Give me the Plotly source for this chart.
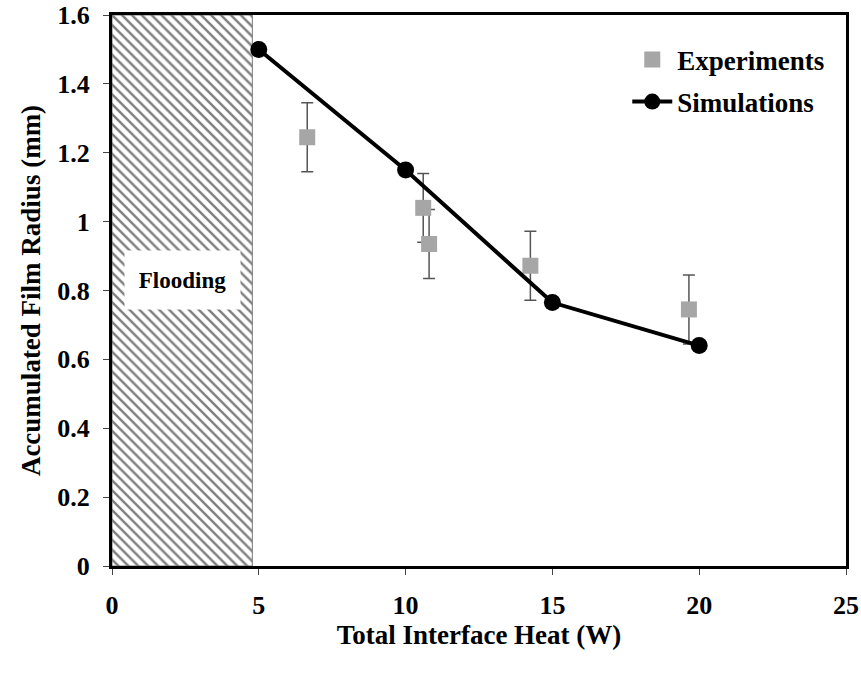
import plotly.graph_objects as go

# Data
sim_x = [5.0, 10.0, 15.0, 20.0]
sim_y = [1.50, 1.150, 0.765, 0.640]

exp_x = [6.65, 10.6, 10.8, 14.25, 19.65]
exp_y = [1.245, 1.04, 0.935, 0.872, 0.745]
exp_err = [0.10, 0.10, 0.10, 0.10, 0.10]

flood_x = [0, 4.78]
y_range = [0, 1.6]
x_ticks = [0, 5, 10, 15, 20, 25]
y_ticks = [0, 0.2, 0.4, 0.6, 0.8, 1.0, 1.2, 1.4, 1.6]
y_tick_text = ["0", "0.2", "0.4", "0.6", "0.8", "1", "1.2", "1.4", "1.6"]

FONT = "Liberation Serif"

fig = go.Figure()

# Flooding hatched region
fig.add_trace(go.Scatter(
    x=[flood_x[0], flood_x[1], flood_x[1], flood_x[0], flood_x[0]],
    y=[y_range[0], y_range[0], y_range[1], y_range[1], y_range[0]],
    mode="lines", fill="toself",
    fillcolor="white",
    fillpattern=dict(shape="\\", size=7, solidity=0.35, fgcolor="black", bgcolor="white", fillmode="overlay"),
    line=dict(color="#777777", width=1),
    showlegend=False, hoverinfo="skip",
))

fig.add_trace(go.Scatter(
    x=exp_x, y=exp_y, mode="markers", name="Experiments",
    marker=dict(symbol="square", size=16, color="#A6A6A6"),
    error_y=dict(type="data", array=exp_err, visible=True, color="#555555", thickness=1.5, width=6),
    legendgroup="a",
))

fig.add_trace(go.Scatter(
    x=sim_x, y=sim_y, mode="lines+markers", name="Simulations",
    line=dict(color="black", width=4),
    marker=dict(symbol="circle", size=17, color="black"),
    legendgroup="b",
))

fig.add_annotation(
    x=(flood_x[0] + flood_x[1]) / 2, y=0.83, xref="x", yref="y",
    text="<b>Flooding</b>", showarrow=False,
    font=dict(family=FONT, size=23, color="black"),
    bgcolor="white", width=113, height=56,
)

fig.update_layout(
    width=861, height=673,
    margin=dict(l=112, r=15, t=15, b=107),
    paper_bgcolor="white", plot_bgcolor="white",
    font=dict(family=FONT, size=24, color="black"),
    showlegend=True,
    legend=dict(
        x=0.702, y=0.963, xanchor="left", yanchor="top",
        bgcolor="rgba(0,0,0,0)", font=dict(family=FONT, size=27, color="black", weight="bold"),
        traceorder="grouped", tracegroupgap=4, itemwidth=40,
    ),
    xaxis=dict(
        range=[0, 25], tickvals=x_ticks, showgrid=False, zeroline=False, automargin=False,
        showline=True, linecolor="black", linewidth=3, mirror=True,
        ticks="outside", ticklen=6, tickcolor="#444", tickwidth=1,
        ticklabelstandoff=8,
        tickfont=dict(family=FONT, size=26, weight="bold"),
        title=dict(text="<b>Total Interface Heat (W)</b>", font=dict(family=FONT, size=27), standoff=4),
    ),
    yaxis=dict(
        range=y_range, tickvals=y_ticks, ticktext=y_tick_text, showgrid=False, zeroline=False, automargin=False,
        showline=True, linecolor="black", linewidth=3, mirror=True,
        ticks="outside", ticklen=6, tickcolor="#444", tickwidth=1,
        ticklabelstandoff=8,
        tickfont=dict(family=FONT, size=26, weight="bold"),
        title=dict(text="<b>Accumulated Film Radius (mm)</b>", font=dict(family=FONT, size=27), standoff=9),
    ),
)

fig.write_html("out.html")
